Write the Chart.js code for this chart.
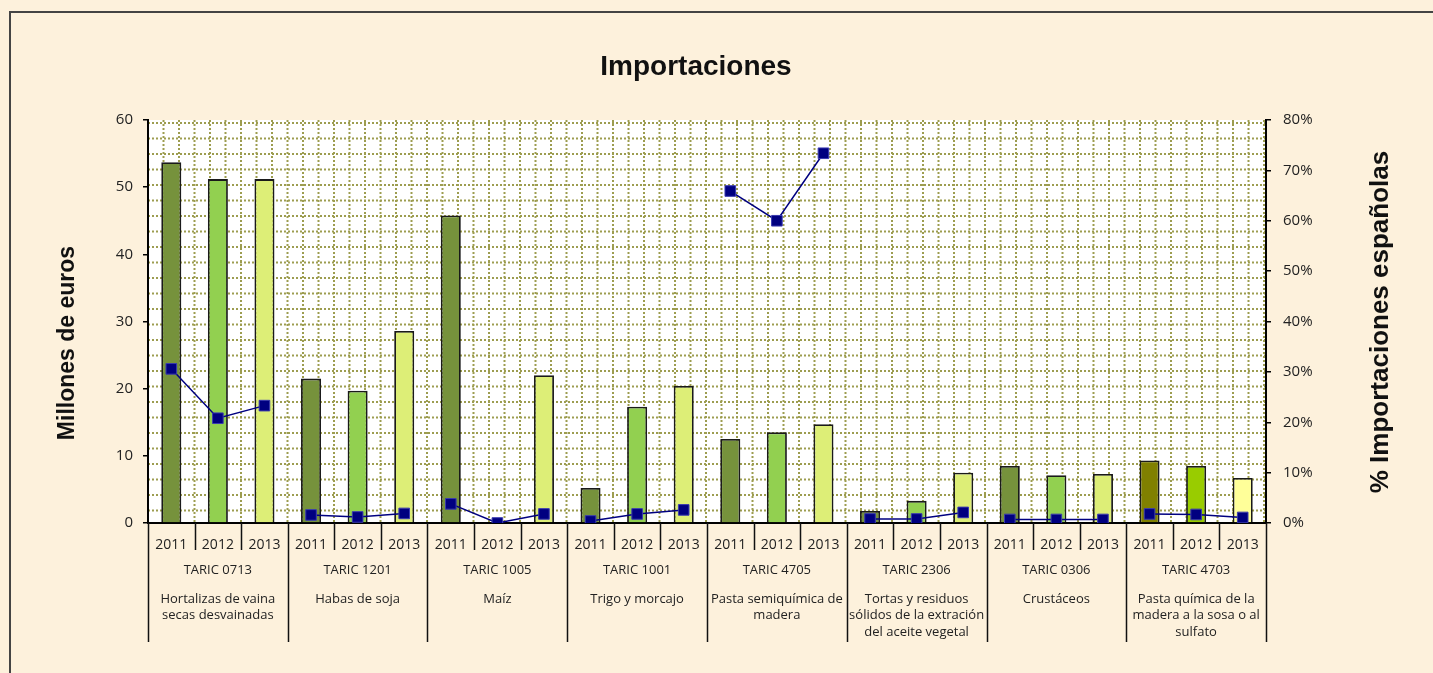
<!DOCTYPE html>
<html>
<head>
<meta charset="utf-8">
<script src="https://cdn.jsdelivr.net/npm/chart.js@4/dist/chart.umd.min.js"></script>
<style>
  html, body { margin: 0; padding: 0; background: #fdf1dc; }
  #wrap { width: 1433px; height: 673px; }
</style>
</head>
<body>
<div id="wrap"><canvas id="importChart" width="1433" height="673"></canvas></div>
<script>
// Data
const years = ["2011", "2012", "2013"];
const taricCodes = ["TARIC 0713", "TARIC 1201", "TARIC 1005", "TARIC 1001",
                    "TARIC 4705", "TARIC 2306", "TARIC 0306", "TARIC 4703"];
const productNames = [
    ["Hortalizas de vaina", "secas desvainadas"],
    ["Habas de soja"],
    ["Maíz"],
    ["Trigo y morcajo"],
    ["Pasta semiquímica de", "madera"],
    ["Tortas y residuos", "sólidos de la extración", "del aceite vegetal"],
    ["Crustáceos"],
    ["Pasta química de la", "madera a la sosa o al", "sulfato"]
];
// Millones de euros (one value per product and year)
const importValues = [
    53.7, 51.2, 51.2,
    21.5, 19.7, 28.6,
    45.8, 0, 22.0,
    5.2, 17.3, 20.4,
    12.5, 13.5, 14.7,
    1.8, 3.3, 7.5,
    8.5, 7.1, 7.3,
    9.3, 8.5, 6.7
];
// % Importaciones españolas (as fractions)
const spanishShare = [
    0.306, 0.208, 0.233,
    0.016, 0.012, 0.019,
    0.038, 0.000, 0.018,
    0.004, 0.018, 0.026,
    0.659, 0.600, 0.734,
    0.008, 0.008, 0.021,
    0.007, 0.007, 0.007,
    0.018, 0.017, 0.011
];

const labels = [];
taricCodes.forEach(() => years.forEach(y => labels.push(y)));

// bar colours: same three greens for every product, last one differs
const yearColors = ["#76923c", "#92d050", "#ddee77"];
const lastColors = ["#808000", "#99cc00", "#ffff99"];
const barColors = labels.map((_, i) =>
    Math.floor(i / 3) === taricCodes.length - 1 ? lastColors[i % 3] : yearColors[i % 3]);

const labelFont = '"Open Sans", sans-serif';
const boldFont = '"Liberation Sans", Arial, sans-serif';

const decoPlugin = {
    id: "deco",
    beforeDraw(chart) {
        const ctx = chart.ctx;
        const a = chart.chartArea;
        ctx.save();
        ctx.fillStyle = "#fdf1dc";
        ctx.fillRect(0, 0, chart.width, chart.height);
        ctx.strokeStyle = "#444";
        ctx.lineWidth = 2;
        ctx.beginPath();
        ctx.moveTo(10, chart.height + 5);
        ctx.lineTo(10, 12);
        ctx.lineTo(chart.width + 5, 12);
        ctx.stroke();
        // white plot area with dotted pattern grid
        ctx.fillStyle = "#ffffff";
        ctx.fillRect(a.left, a.top, a.right - a.left, a.bottom - a.top);
        ctx.strokeStyle = "#9d9d50";
        ctx.lineWidth = 2;
        ctx.setLineDash([2, 2]);
        const step = 15.5;
        ctx.beginPath();
        for (let x = a.left + step; x < a.right; x += step) {
            ctx.moveTo(x, a.top);
            ctx.lineTo(x, a.bottom);
        }
        for (let y = a.top + 3; y < a.bottom; y += step) {
            ctx.moveTo(a.left, y);
            ctx.lineTo(a.right, y);
        }
        ctx.stroke();
        ctx.restore();
    },
    afterDraw(chart) {
        const ctx = chart.ctx;
        const a = chart.chartArea;
        const xs = chart.scales.x;
        const half = (xs.getPixelForValue(1) - xs.getPixelForValue(0)) / 2;
        ctx.save();
        // separators under the axis
        ctx.strokeStyle = "#111";
        ctx.lineWidth = 1.5;
        ctx.beginPath();
        for (let i = 0; i <= labels.length; i++) {
            const x = Math.round(xs.getPixelForValue(i) - half) + 0.5;
            const bottom = i % 3 === 0 ? 642 : 550;
            ctx.moveTo(x, a.bottom);
            ctx.lineTo(x, bottom);
        }
        ctx.stroke();
        // group labels
        ctx.fillStyle = "#222";
        ctx.textAlign = "center";
        ctx.textBaseline = "middle";
        ctx.font = "13px " + labelFont;
        taricCodes.forEach((code, g) => {
            const cx = xs.getPixelForValue(g * 3 + 1);
            ctx.fillText(code, cx, 570);
            productNames[g].forEach((line, k) => {
                ctx.fillText(line, cx, 599 + k * 16.5);
            });
        });
        // title
        ctx.fillStyle = "#111";
        ctx.font = "bold 28px " + boldFont;
        ctx.fillText("Importaciones", 696, 67);
        // axis titles, both read bottom to top
        ctx.font = "bold 23px " + boldFont;
        ctx.save();
        ctx.translate(68, 343);
        ctx.rotate(-Math.PI / 2);
        ctx.fillText("Millones de euros", 0, 0);
        ctx.restore();
        ctx.font = "bold 26px " + boldFont;
        ctx.save();
        ctx.translate(1381, 322);
        ctx.rotate(-Math.PI / 2);
        ctx.fillText("% Importaciones españolas", 0, 0);
        ctx.restore();
        ctx.restore();
    }
};

const ctx = document.getElementById("importChart").getContext("2d");
const importChart = new Chart(ctx, {
    data: {
        labels: labels,
        datasets: [
            {
                type: "line",
                label: "% Importaciones españolas",
                data: spanishShare,
                yAxisID: "y2",
                order: 0,
                borderColor: "#000080",
                borderWidth: 1.5,
                pointStyle: "rect",
                pointRadius: 7.5,
                pointBackgroundColor: "#000080",
                pointBorderColor: "#3a3ab0",
                pointBorderWidth: 1,
                tension: 0,
                segment: {
                    // products are not joined to each other
                    borderColor: c => Math.floor(c.p0DataIndex / 3) !== Math.floor(c.p1DataIndex / 3)
                        ? "rgba(0,0,0,0)" : undefined
                }
            },
            {
                type: "bar",
                label: "Millones de euros",
                data: importValues,
                yAxisID: "y",
                order: 1,
                backgroundColor: barColors,
                borderColor: "#1a1a1a",
                borderWidth: 1.8,
                categoryPercentage: 1,
                barPercentage: 0.43
            }
        ]
    },
    options: {
        responsive: false,
        animation: false,
        layout: { padding: { top: 120, left: 0, right: 0, bottom: 0 } },
        plugins: {
            legend: { display: false },
            title: { display: false },
            tooltip: { enabled: false }
        },
        scales: {
            x: {
                offset: true,
                grid: { display: false },
                border: { display: true, color: "#000", width: 2 },
                ticks: {
                    color: "#222",
                    font: { family: labelFont, size: 14 },
                    padding: 6,
                    maxRotation: 0,
                    autoSkip: false
                },
                afterFit: s => { s.height = 150; }
            },
            y: {
                position: "left",
                min: 0,
                max: 60,
                ticks: {
                    stepSize: 10,
                    color: "#222",
                    font: { family: labelFont, size: 15 },
                    padding: 10
                },
                grid: { drawOnChartArea: false, tickLength: 5, color: "#000", lineWidth: 1.5 },
                border: { color: "#000", width: 2 },
                afterFit: s => { s.width = 148; }
            },
            y2: {
                position: "right",
                min: 0,
                max: 0.8,
                ticks: {
                    stepSize: 0.1,
                    color: "#222",
                    font: { family: labelFont, size: 15 },
                    padding: 12,
                    callback: v => Math.round(v * 100) + "%"
                },
                grid: { drawOnChartArea: false, tickLength: 5, color: "#000", lineWidth: 1.5 },
                border: { color: "#000", width: 2 },
                afterFit: s => { s.width = 167; }
            }
        }
    },
    plugins: [decoPlugin]
});
</script>
</body>
</html>
